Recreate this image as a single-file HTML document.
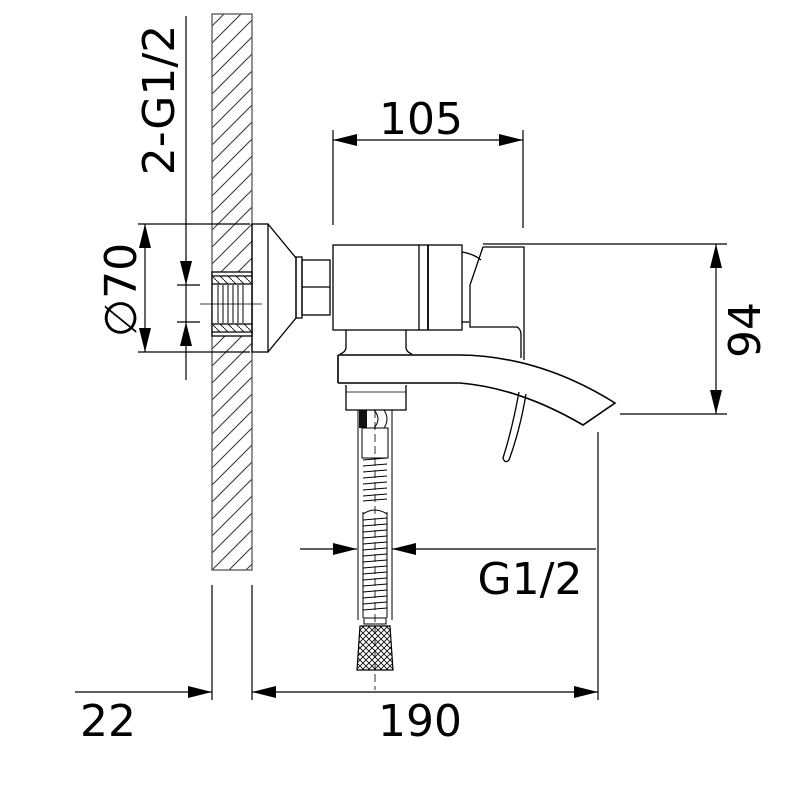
<!DOCTYPE html>
<html><head><style>
html,body{margin:0;padding:0;background:#fff;width:808px;height:796px;overflow:hidden}
svg{display:block}
text{font-family:"DejaVu Sans","Liberation Sans",sans-serif;fill:#000}
</style></head><body>
<svg width="808" height="796" viewBox="0 0 808 796" xmlns="http://www.w3.org/2000/svg">
<defs>
<pattern id="h" patternUnits="userSpaceOnUse" width="17" height="17" patternTransform="rotate(0)">
<line x1="0" y1="17" x2="17" y2="0" stroke="#333" stroke-width="1"/>
<line x1="-2" y1="2" x2="2" y2="-2" stroke="#333" stroke-width="1"/>
<line x1="15" y1="19" x2="19" y2="15" stroke="#333" stroke-width="1"/>
</pattern>
<pattern id="hs" patternUnits="userSpaceOnUse" width="8" height="8">
<line x1="0" y1="0" x2="8" y2="8" stroke="#000" stroke-width="0.8"/>
</pattern>
<pattern id="knurl" patternUnits="userSpaceOnUse" width="6" height="6">
<path d="M0 0 L6 6 M6 0 L0 6" stroke="#000" stroke-width="0.8" fill="none"/>
</pattern>
</defs>
<g fill="none" stroke="#000" stroke-width="1.3">
<!-- wall -->
<rect x="212" y="14" width="40" height="556" fill="url(#h)" stroke="#555"/>
<rect x="212" y="272" width="40" height="64" fill="#fff" stroke="#000"/>
<rect x="213" y="276" width="38" height="8" fill="url(#hs)" stroke="none"/>
<rect x="213" y="324" width="38" height="8" fill="url(#hs)" stroke="none"/>
<line x1="212" y1="276" x2="252" y2="276"/><line x1="212" y1="284" x2="252" y2="284"/>
<line x1="212" y1="324" x2="252" y2="324"/><line x1="212" y1="332" x2="252" y2="332"/>
<path d="M218 285v38 M223 285v38 M228 285v38 M233 285v38 M238 285v38 M243 285v38" stroke-width="1"/>
<line x1="200" y1="304" x2="262" y2="304" stroke-width="0.8"/>
<!-- flange -->
<rect x="252" y="224" width="16" height="128"/>
<path d="M268 224 L296 258 L296 318 L268 352"/>
<rect x="296" y="257" width="6" height="61"/>
<rect x="302" y="260" width="28" height="55"/>
<line x1="302" y1="287" x2="330" y2="287"/>
<!-- body -->
<rect x="333" y="245" width="129" height="85"/>
<line x1="419" y1="245" x2="419" y2="330"/>
<line x1="428" y1="245" x2="428" y2="330" stroke-width="1.8"/>
<path d="M462 252 Q474 254 481 260"/>
<path d="M462 322 L469 322"/>
<!-- handle -->
<path d="M483 247 L524 247 L524 360 M483 247 L470 285 L470 327 L517 327 Q521 329 521 335 L521 358"/>
<!-- stem -->
<path d="M346 330 L346 347 Q346 352 340 354 M406 330 L406 347 Q406 352 412 354"/>
<!-- spout -->
<path d="M338 355 L338 383 M338 355 L460 355 Q540 356 615 403 L583 425 Q520 388 460 383 L338 383" stroke-width="1.6"/>
<path d="M346 385 L346 410 L406 410 L406 385"/>
<path d="M346 392 L406 392" stroke-width="0.8"/>
<!-- lever under spout -->
<path d="M519 392 Q512 430 503 458 Q505 464 509 460 Q520 430 526 394"/>
<!-- hose -->
<path d="M358 410 L358 620 M392 410 L392 620" stroke-width="1"/>
<rect x="359" y="410" width="8" height="18" fill="#111" stroke="none"/>
<path d="M374 410 Q382 419 374 428 M384 410 Q390 419 384 428" stroke-width="1"/>
<path d="M362 428 L388 428 L388 458 L362 458 Z" stroke-width="1"/>
<path d="M363 460 L387 458 M363 466 L387 464 M363 472 L387 470 M363 478 L387 476 M363 484 L387 482 M363 490 L387 488 M363 496 L387 494 M363 501 L387 499" stroke-width="1"/>
<path d="M363 514 Q375 506 387 514 M363 520 L387 518 M363 526 L387 524 M363 532 L387 530 M363 538 L387 536 M363 544 L387 542 M363 550 L387 548 M363 556 L387 554 M363 562 L387 560 M363 568 L387 566 M363 574 L387 572 M363 580 L387 578 M363 586 L387 584 M363 592 L387 590 M363 598 L387 596 M363 604 L387 602 M363 610 L387 608" stroke-width="1"/>
<path d="M363 512 L363 618 M387 512 L387 618" stroke-width="1"/>
<rect x="364" y="618" width="22" height="6" stroke-width="1"/>
<path d="M360 626 L390 626 L393 670 L357 670 Z" fill="url(#knurl)" stroke-width="1.2"/>
<line x1="375" y1="410" x2="375" y2="690" stroke-width="0.8" stroke-dasharray="8 4"/>
</g>
<!-- dimension lines -->
<g stroke="#000" stroke-width="1.2" fill="none">
<!-- 105 -->
<line x1="333" y1="130" x2="333" y2="225"/>
<line x1="523" y1="130" x2="523" y2="228"/>
<line x1="333" y1="140" x2="523" y2="140"/>
<!-- 94 -->
<line x1="483" y1="244" x2="727" y2="244"/>
<line x1="620" y1="414" x2="727" y2="414"/>
<line x1="716" y1="244" x2="716" y2="414"/>
<!-- 70 -->
<line x1="138" y1="224" x2="250" y2="224"/>
<line x1="138" y1="352" x2="250" y2="352"/>
<line x1="145" y1="224" x2="145" y2="352"/>
<!-- 2-G1/2 -->
<line x1="186" y1="16" x2="186" y2="380"/>
<line x1="177" y1="285" x2="200" y2="285"/>
<line x1="177" y1="322" x2="200" y2="322"/>
<!-- G1/2 -->
<line x1="300" y1="549" x2="357" y2="549"/>
<line x1="392" y1="549" x2="596" y2="549"/>
<line x1="598" y1="432" x2="598" y2="700"/>
<!-- bottom -->
<line x1="212" y1="585" x2="212" y2="700"/>
<line x1="252" y1="585" x2="252" y2="700"/>
<line x1="75" y1="692" x2="212" y2="692"/>
<line x1="252" y1="692" x2="598" y2="692"/>
</g>
<g fill="#000" stroke="none">
<path d="M333 140 l24 -6 v12 z"/><path d="M523 140 l-24 -6 v12 z"/>
<path d="M716 244 l-6 24 h12 z"/><path d="M716 414 l-6 -24 h12 z"/>
<path d="M145 224 l-6 24 h12 z"/><path d="M145 352 l-6 -24 h12 z"/>
<path d="M186 285 l-6 -24 h12 z"/><path d="M186 322 l-6 24 h12 z"/>
<path d="M357 549 l-24 -6 v12 z"/><path d="M392 549 l24 -6 v12 z"/>
<path d="M212 692 l-24 -6 v12 z"/>
<path d="M252 692 l24 -6 v12 z"/><path d="M598 692 l-24 -6 v12 z"/>
</g>
<g font-size="44">
<text x="421" y="134" text-anchor="middle">105</text>
<text x="760" y="330" text-anchor="middle" transform="rotate(-90 760 330)">94</text>
<text x="136" y="290" text-anchor="middle" transform="rotate(-90 136 290)">∅70</text>
<text x="174" y="100" text-anchor="middle" transform="rotate(-90 174 100)">2-G1/2</text>
<text x="530" y="594" text-anchor="middle">G1/2</text>
<text x="108" y="736" text-anchor="middle">22</text>
<text x="420" y="736" text-anchor="middle">190</text>
</g>
</svg>
</body></html>
